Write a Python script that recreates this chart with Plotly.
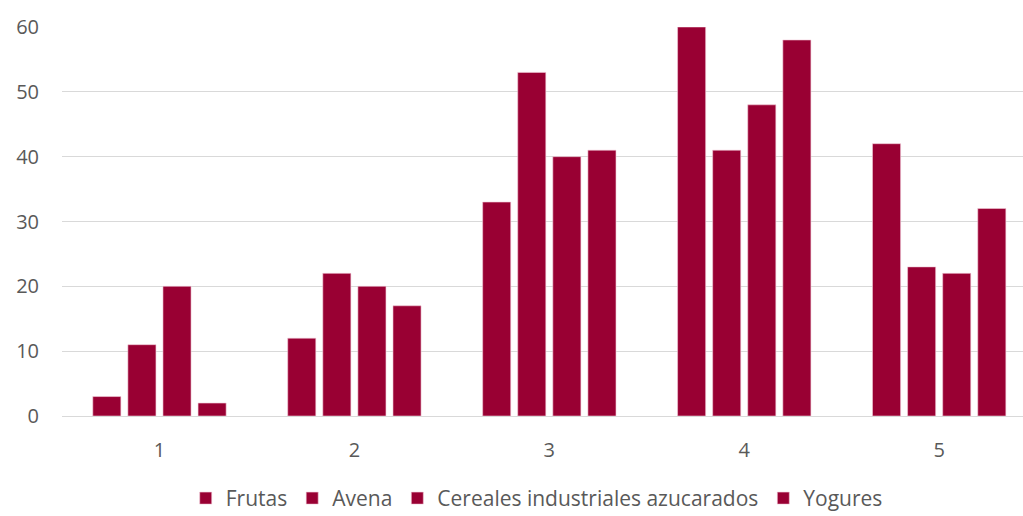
import plotly.graph_objects as go

categories = [1, 2, 3, 4, 5]
tick_labels = ["1", "2", "3", "4", "5"]
series_names = ["Frutas", "Avena", "Cereales industriales azucarados", "Yogures"]
frutas = [3, 12, 33, 60, 42]
avena = [11, 22, 53, 41, 23]
cereales = [20, 20, 40, 48, 22]
yogures = [2, 17, 41, 58, 32]
values = [frutas, avena, cereales, yogures]

color = "#990033"
fig = go.Figure()
for name, vals in zip(series_names, values):
    fig.add_trace(go.Bar(x=categories, y=vals, name=name,
                         marker=dict(color=color, line=dict(color="#f2c9d6", width=0.6))))

fig.update_layout(
    width=1023, height=516,
    margin=dict(l=62, r=0, t=27, b=100, autoexpand=False),
    plot_bgcolor="white", paper_bgcolor="white",
    barmode="group", bargap=0.28, bargroupgap=0.2,
    font=dict(family="Open Sans, sans-serif", size=20, color="#595959"),
    xaxis=dict(range=[0.5, 5.43], tickvals=categories, ticktext=tick_labels,
               showgrid=False, zeroline=False, showline=False, ticks="",
               ticklabelstandoff=20, automargin=False,
               tickfont=dict(size=20, color="#595959")),
    yaxis=dict(range=[0, 60], dtick=10, showgrid=True, gridcolor="#d9d9d9",
               gridwidth=1, zeroline=True, zerolinecolor="#d9d9d9", zerolinewidth=1,
               ticks="", ticklabelstandoff=22, automargin=False,
               tickfont=dict(size=20, color="#595959")),
    legend=dict(orientation="h", x=0.494, xanchor="center", yref="paper",
                y=-0.212, yanchor="middle", tracegroupgap=0,
                font=dict(size=21, color="#595959"), itemwidth=30),
    showlegend=True,
)
fig.write_html("out.html")
